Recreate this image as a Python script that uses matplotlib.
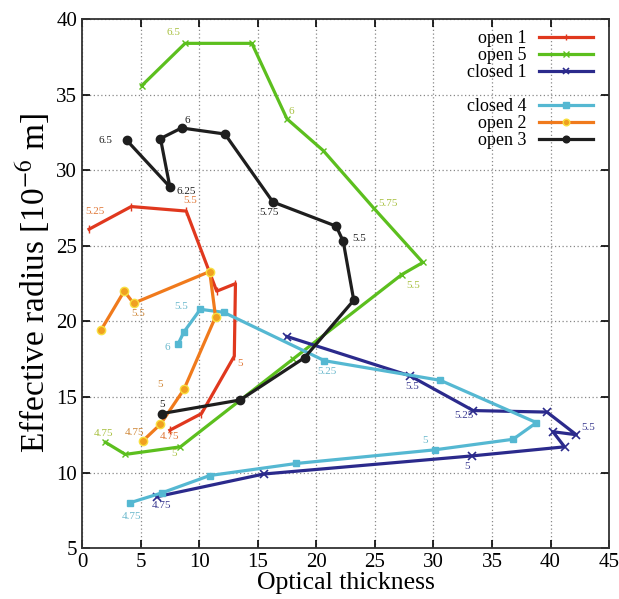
import numpy as np
import matplotlib
matplotlib.use('Agg')
import matplotlib.pyplot as plt
from matplotlib.lines import Line2D

plt.rcParams['font.family'] = ['Liberation Serif', 'DejaVu Serif']
plt.rcParams['mathtext.fontset'] = 'stix'

#trajectories (optical thickness, effective radius)
open1_x = [0.6, 4.2, 8.9, 11.5, 13.1, 13.0, 10.2, 7.5]
open1_y = [26.1, 27.6, 27.3, 22.0, 22.5, 17.7, 13.9, 12.8]
open1_lab = [(1.1, 27.3, '5.25'), (9.2, 28.0, '5.5'), (13.5, 17.2, '5'), (7.5, 12.4, '4.75')]

open5_x = [5.1, 8.8, 14.5, 17.5, 20.6, 24.9, 29.1, 27.3, 18.0, 8.4, 3.7, 2.0]
open5_y = [35.6, 38.4, 38.4, 33.4, 31.3, 27.5, 23.9, 23.1, 17.5, 11.7, 11.2, 12.0]
open5_lab = [(7.8, 39.1, '6.5'), (17.9, 33.9, '6'), (26.1, 27.8, '5.75'), (28.3, 22.35, '5.5'),
             (7.9, 11.25, '5'), (1.8, 12.6, '4.75')]

closed1_x = [17.5, 28.0, 33.4, 39.7, 42.2, 40.2, 41.2, 33.3, 15.5, 6.4]
closed1_y = [19.0, 16.4, 14.1, 14.0, 12.5, 12.7, 11.7, 11.1, 9.9, 8.4]
closed1_lab = [(28.2, 15.7, '5.5'), (32.6, 13.8, '5.25'), (43.2, 13.0, '5.5'),
               (32.9, 10.4, '5'), (6.8, 7.8, '4.75')]

closed4_x = [8.2, 8.7, 10.1, 12.1, 20.7, 30.6, 38.8, 36.8, 30.1, 18.3, 10.9, 6.8, 4.1]
closed4_y = [18.5, 19.3, 20.8, 20.6, 17.4, 16.1, 13.3, 12.2, 11.5, 10.6, 9.8, 8.65, 8.0]
closed4_lab = [(8.5, 21.0, '5.5'), (7.3, 18.3, '6'), (20.9, 16.7, '5.25'),
               (29.3, 12.1, '5'), (4.2, 7.1, '4.75')]

open2_x = [1.6, 3.6, 4.4, 10.9, 11.4, 8.7, 6.7, 5.2]
open2_y = [19.4, 22.0, 21.2, 23.3, 20.3, 15.5, 13.2, 12.1]
open2_lab = [(4.8, 20.55, '5.5'), (6.7, 15.8, '5'), (4.5, 12.65, '4.75')]

open3_x = [3.8, 7.5, 6.7, 8.5, 12.2, 16.3, 21.7, 22.3, 23.2, 19.0, 13.5, 6.8]
open3_y = [32.0, 28.9, 32.1, 32.8, 32.4, 27.9, 26.3, 25.3, 21.4, 17.6, 14.8, 13.9]
open3_lab = [(2.0, 31.95, '6.5'), (8.9, 28.6, '6.25'), (9.0, 33.3, '6'),
             (16.0, 27.2, '5.75'), (23.7, 25.5, '5.5'), (6.8, 14.5, '5')]

fig = plt.figure(figsize=(6.19, 5.99), dpi=100)
ax = fig.add_axes([0.1325, 0.085, 0.8515, 0.883])

lw = 2.3
l1, = ax.plot(open1_x, open1_y, color='#e0381e', lw=lw, marker='|', ms=6, mew=1.0)
l5, = ax.plot(open5_x, open5_y, color='#5cbf1e', lw=lw, marker='x', ms=5, mew=1.0)
lc1, = ax.plot(closed1_x, closed1_y, color='#2b2a8c', lw=lw, marker='x', ms=6, mew=1.2)
lc4, = ax.plot(closed4_x, closed4_y, color='#55b8d2', lw=lw, marker='s', ms=5)
l2, = ax.plot(open2_x, open2_y, color='#f07a1c', lw=lw, marker='o', ms=6,
              mfc='#f0a020', mec='#f8e040', mew=1.0)
l3, = ax.plot(open3_x, open3_y, color='#1e1e1e', lw=lw, marker='o', ms=6)

#time labels next to points
for labs, c in [(open1_lab, '#e07838'), (open5_lab, '#a8c040'), (closed1_lab, '#3a3a90'),
                (closed4_lab, '#6ab8cc'), (open2_lab, '#d08838'), (open3_lab, '#1e1e1e')]:
    for x, y, t in labs:
        ax.text(x, y, t, color=c, fontsize=8, ha='center', va='center')

ax.set_xlim(0, 45)
ax.set_ylim(5, 40)
ax.set_xticks(np.arange(0, 46, 5))
ax.set_yticks(np.arange(5, 41, 5))
ax.grid(True, linestyle=(0, (1, 2)), color='#888888', lw=0.9)
ax.tick_params(direction='in', top=True, right=True, labelsize=15, length=6, width=1.2)
for s in ax.spines.values():
    s.set_linewidth(1.3)
    s.set_color('#333333')

ax.set_xlabel('Optical thickness', fontsize=18.5, labelpad=0)
ax.set_ylabel('Effective radius [10$^{-6}$ m]', fontsize=24, labelpad=2)

blank = Line2D([], [], color='none')
ax.legend([l1, l5, lc1, blank, lc4, l2, l3],
          ['open 1', 'open 5', 'closed 1', ' ', 'closed 4', 'open 2', 'open 3'],
          loc='upper right', bbox_to_anchor=(0.99, 1.0), borderaxespad=0.2, frameon=False,
          markerfirst=False, fontsize=13, labelspacing=0.0, handlelength=3.0,
          handletextpad=0.7, markerscale=0.8)

fig.savefig('out.png', dpi=100)
